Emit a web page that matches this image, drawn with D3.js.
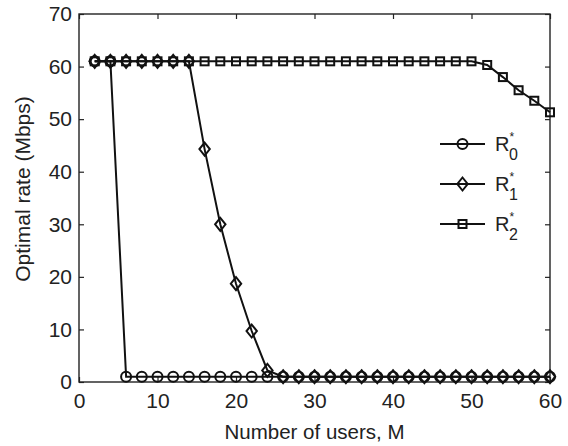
<!DOCTYPE html>
<html>
<head>
<meta charset="utf-8">
<script src="https://cdn.jsdelivr.net/npm/d3@7"></script>
<style>
  body { margin: 0; background: #fff; }
  text { font-family: "Liberation Sans", Arial, sans-serif; fill: #222; }
</style>
</head>
<body>
<script>
//Variables
const width = 568;
const height = 446;
const margin = { top: 14, right: 18, bottom: 64, left: 79 };

//Data
const users = d3.range(2, 61, 2);
const r0 = [61, 61, 1, 1, 1, 1, 1, 1, 1, 1, 1, 1, 1, 1, 1, 1, 1, 1, 1, 1, 1, 1, 1, 1, 1, 1, 1, 1, 1, 1];
const r1 = [61, 61, 61, 61, 61, 61, 61, 44.3, 30, 18.7, 9.7, 2.2, 1, 1, 1, 1, 1, 1, 1, 1, 1, 1, 1, 1, 1, 1, 1, 1, 1, 1];
const r2 = [61, 61, 61, 61, 61, 61, 61, 61, 61, 61, 61, 61, 61, 61, 61, 61, 61, 61, 61, 61, 61, 61, 61, 61, 61, 60.3, 58, 55.5, 53.5, 51.3];
const xTicks = [0, 10, 20, 30, 40, 50, 60];
const yTicks = [0, 10, 20, 30, 40, 50, 60, 70];
const seriesNames = ["0", "1", "2"];
const seriesMarkers = ["circle", "diamond", "square"];

const series = [r0, r1, r2].map((vals, i) => ({
    name: seriesNames[i],
    marker: seriesMarkers[i],
    points: users.map((u, j) => ({ x: u, y: vals[j] }))
}));

//SVG creation
const svg = d3.select("body")
    .append("svg")
    .attr("width", width)
    .attr("height", height);

const x0 = margin.left, x1 = width - margin.right;
const y0 = height - margin.bottom, y1 = margin.top;

const xScale = d3.scaleLinear().domain([0, 60]).range([x0, x1]);
const yScale = d3.scaleLinear().domain([0, 70]).range([y0, y1]);

//Axes (MATLAB style, ticks inward on all sides)
const tickLen = 5;
const fs = 21;
svg.append("g")
    .attr("transform", `translate(0, ${y0})`)
    .call(d3.axisBottom(xScale).tickValues(xTicks).tickSize(-tickLen).tickPadding(11))
    .call(g => g.select(".domain").remove())
    .call(g => g.selectAll("text").attr("font-size", fs).attr("fill", "#222"));

svg.append("g")
    .attr("transform", `translate(0, ${y1})`)
    .call(d3.axisTop(xScale).tickValues(xTicks).tickSize(-tickLen).tickFormat(""))
    .call(g => g.select(".domain").remove());

svg.append("g")
    .attr("transform", `translate(${x0}, 0)`)
    .call(d3.axisLeft(yScale).tickValues(yTicks).tickSize(-tickLen).tickPadding(7))
    .call(g => g.select(".domain").remove())
    .call(g => g.selectAll("text").attr("font-size", fs).attr("fill", "#222"));

svg.append("g")
    .attr("transform", `translate(${x1}, 0)`)
    .call(d3.axisRight(yScale).tickValues(yTicks).tickSize(-tickLen).tickFormat(""))
    .call(g => g.select(".domain").remove());

svg.selectAll(".tick line").attr("stroke", "#222").attr("stroke-width", 1.2);

svg.append("rect")
    .attr("x", x0).attr("y", y1)
    .attr("width", x1 - x0).attr("height", y0 - y1)
    .attr("fill", "none")
    .attr("stroke", "#222")
    .attr("stroke-width", 1.4);

//Axis labels
svg.append("text")
    .attr("x", (x0 + x1) / 2)
    .attr("y", 439)
    .attr("text-anchor", "middle")
    .attr("font-size", 20.5)
    .text("Number of users, M");

svg.append("text")
    .attr("transform", `translate(30, 189) rotate(-90)`)
    .attr("text-anchor", "middle")
    .attr("font-size", 21)
    .text("Optimal rate (Mbps)");

//Markers
const drawMarker = (g, type, cx, cy) => {
    if (type === "circle") {
        g.append("circle").attr("cx", cx).attr("cy", cy).attr("r", 5)
            .attr("fill", "none").attr("stroke", "#111").attr("stroke-width", 2);
    } else if (type === "diamond") {
        const s = 6.5;
        g.append("path")
            .attr("d", `M${cx},${cy - s}L${cx + s * 0.8},${cy}L${cx},${cy + s}L${cx - s * 0.8},${cy}Z`)
            .attr("fill", "none").attr("stroke", "#111").attr("stroke-width", 2);
    } else {
        const s = 4;
        g.append("rect").attr("x", cx - s).attr("y", cy - s).attr("width", 2 * s).attr("height", 2 * s)
            .attr("fill", "none").attr("stroke", "#111").attr("stroke-width", 2);
    }
};

const line = d3.line().x(d => xScale(d.x)).y(d => yScale(d.y));

series.forEach(s => {
    const g = svg.append("g");
    g.append("path")
        .datum(s.points)
        .attr("d", line)
        .attr("fill", "none")
        .attr("stroke", "#111")
        .attr("stroke-width", 2);
    s.points.forEach(p => drawMarker(g, s.marker, xScale(p.x), yScale(p.y)));
});

//Legend
const legend = svg.append("g");
series.forEach((s, i) => {
    const ly = 144 + i * 40;
    legend.append("line")
        .attr("x1", 440).attr("x2", 485)
        .attr("y1", ly).attr("y2", ly)
        .attr("stroke", "#111").attr("stroke-width", 2);
    drawMarker(legend, s.marker, 462.5, ly);
    legend.append("text")
        .attr("x", 495).attr("y", ly + 7)
        .attr("font-size", 20)
        .text("R");
    legend.append("text")
        .attr("x", 509.5).attr("y", ly - 3)
        .attr("font-size", 12)
        .text("*");
    legend.append("text")
        .attr("x", 509).attr("y", ly + 16)
        .attr("font-size", 16)
        .text(s.name);
});
</script>
</body>
</html>
